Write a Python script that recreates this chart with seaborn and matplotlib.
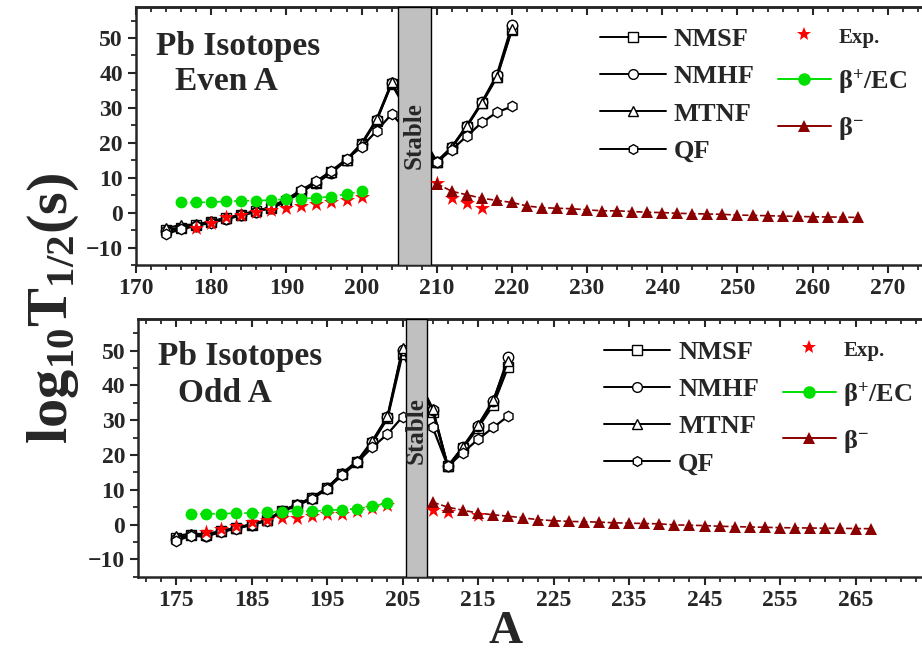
import matplotlib
matplotlib.use('Agg')
import matplotlib.pyplot as plt
from matplotlib.lines import Line2D
from matplotlib.ticker import FixedLocator, MultipleLocator
import seaborn as sns

# ---- even A isotopes ----
even_A = list(range(174, 206, 2)) + list(range(210, 222, 2))
even_nmsf = [-5.0, -4.3, -3.6, -2.6, -1.6, -0.6, 0.4, 1.4, 3.3, 6.0, 8.6, 11.5, 15.1, 19.6, 26.3, 36.8,
             14.4, 18.6, 24.6, 31.3, 38.7, 52.3]
even_nmhf = [-5.3, -4.5, -3.7, -2.7, -1.7, -0.7, 0.3, 1.3, 3.2, 5.9, 8.5, 11.4, 15.0, 19.5, 26.5, 37.0,
             14.6, 18.8, 24.9, 31.6, 39.5, 53.7]
even_mtnf = [-4.4, -3.6, -3.4, -2.5, -1.5, -0.5, 0.5, 1.5, 3.4, 6.1, 8.8, 11.6, 15.2, 19.8, 26.7, 37.3,
             14.5, 18.7, 24.8, 31.5, 38.9, 52.7]
even_qf = [-6.1, -4.8, -3.8, -2.9, -1.9, -0.8, 0.2, 1.8, 3.8, 6.5, 9.0, 12.0, 15.3, 18.8, 23.4, 28.2,
           14.4, 18.0, 21.9, 25.8, 28.7, 30.4]
even_exp_A = list(range(178, 202, 2)) + [210, 212, 214, 216]
even_exp = [-4.5, -2.9, -1.4, -0.7, 0.3, 0.8, 1.4, 2.0, 2.4, 2.9, 3.5, 4.6, 8.5, 4.1, 2.7, 1.4]
even_bp_A = list(range(176, 202, 2))
even_bp = [2.9, 2.9, 3.0, 3.2, 3.4, 3.4, 3.6, 3.8, 4.0, 4.2, 4.6, 5.3, 6.1]
even_bm_A = list(range(210, 268, 2))
even_bm = [8.3, 6.1, 5.1, 4.1, 3.5, 2.9, 1.9, 1.4, 1.25, 1.1, 0.8, 0.5, 0.5, 0.3, 0.1, 0.0, -0.2, -0.3,
           -0.4, -0.5, -0.7, -0.8, -0.9, -1.0, -1.1, -1.2, -1.25, -1.3, -1.4]

# ---- odd A isotopes ----
odd_A = list(range(175, 207, 2)) + list(range(209, 221, 2))
odd_nmsf = [-4.0, -3.0, -3.1, -2.0, -1.0, 0.0, 1.2, 3.8, 5.7, 7.6, 10.5, 14.6, 18.1, 23.5, 30.5, 49.0,
            32.4, 16.7, 22.0, 27.8, 34.3, 45.4]
odd_nmhf = [-4.2, -3.1, -3.2, -2.0, -1.1, 0.0, 1.2, 3.8, 5.7, 7.6, 10.5, 14.6, 18.1, 23.8, 30.8, 50.3,
            33.0, 16.8, 22.2, 28.3, 35.4, 48.1]
odd_mtnf = [-3.3, -2.6, -2.8, -1.8, -0.9, 0.1, 1.3, 3.9, 5.8, 7.7, 10.6, 14.7, 18.3, 24.1, 31.1, 50.8,
            33.3, 16.7, 22.4, 28.6, 35.7, 47.1]
odd_qf = [-4.6, -3.3, -3.4, -2.1, -1.2, -0.1, 1.0, 3.6, 5.5, 7.3, 10.2, 14.2, 17.9, 22.2, 26.0, 31.0,
          27.9, 16.7, 20.7, 24.5, 27.9, 31.2]
odd_exp_A = list(range(179, 205, 2)) + [209, 211, 215]
odd_exp = [-2.2, -1.4, -0.3, 0.7, 1.4, 1.9, 1.9, 2.4, 3.1, 3.1, 3.8, 4.8, 5.7, 4.3, 3.6, 2.6]
odd_bp_A = list(range(177, 205, 2))
odd_bp = [3.0, 3.1, 3.1, 3.3, 3.3, 3.5, 3.7, 3.8, 3.8, 4.1, 4.3, 4.6, 5.2, 6.2]
odd_bm_A = list(range(209, 269, 2))
odd_bm = [6.4, 5.0, 4.1, 3.3, 2.8, 2.4, 1.9, 1.4, 1.1, 0.9, 0.8, 0.7, 0.5, 0.4, 0.3, 0.2, -0.1, -0.2,
          -0.3, -0.5, -0.6, -0.7, -0.8, -0.9, -0.95, -1.0, -1.05, -1.1, -1.15, -1.2]

even_ticks = list(range(170, 280, 10))
odd_ticks = list(range(175, 275, 10))

sns.set_style('ticks')
plt.rcParams['font.family'] = ['Liberation Serif', 'DejaVu Serif']
plt.rcParams['font.weight'] = 'bold'
plt.rcParams['mathtext.fontset'] = 'custom'
plt.rcParams['mathtext.rm'] = 'Liberation Serif'
plt.rcParams['mathtext.bf'] = 'Liberation Serif:bold'
plt.rcParams['mathtext.default'] = 'bf'

GREEN = '#00e000'
DARKRED = '#8b0000'


def draw_panel(ax, A, nmsf, nmhf, mtnf, qf, exp_A, exp, bp_A, bp, bm_A, bm, band, major, minor):
    for vals, mk in [(nmsf, 's'), (nmhf, 'o'), (mtnf, '^'), (qf, 'h')]:
        sns.lineplot(x=A, y=vals, ax=ax, color='black', linewidth=1.6, marker=mk, markersize=7.5,
                     markerfacecolor='white', markeredgecolor='black', markeredgewidth=1,
                     estimator=None, sort=False, zorder=2)
    ax.axvspan(band[0], band[1], facecolor='#c0c0c0', edgecolor='black', linewidth=1, zorder=3)
    sns.scatterplot(x=exp_A, y=exp, ax=ax, marker='*', s=130, color='red', linewidth=0, zorder=4)
    sns.lineplot(x=bp_A, y=bp, ax=ax, color=GREEN, linestyle='--', linewidth=1.2, marker='o',
                 markersize=8.5, markeredgewidth=0, estimator=None, sort=False, zorder=5)
    sns.lineplot(x=bm_A, y=bm, ax=ax, color=DARKRED, linestyle='--', linewidth=1.2, marker='^',
                 markersize=8.5, markeredgewidth=0, estimator=None, sort=False, zorder=5)

    ax.set_xlim(170, 280)
    ax.set_ylim(-15, 59)
    ax.xaxis.set_major_locator(FixedLocator(major))
    ax.xaxis.set_minor_locator(FixedLocator(minor))
    ax.yaxis.set_major_locator(MultipleLocator(10))
    ax.yaxis.set_minor_locator(MultipleLocator(5))
    ax.tick_params(which='major', direction='out', length=6, width=1.5, labelsize=17)
    ax.tick_params(which='minor', direction='out', length=3.5, width=1.3)
    for s in ax.spines.values():
        s.set_linewidth(1.8)
    sec = ax.secondary_xaxis('top')
    sec.xaxis.set_major_locator(FixedLocator(major))
    sec.xaxis.set_minor_locator(FixedLocator(minor))
    sec.tick_params(which='major', direction='in', length=6, width=1.5, labeltop=False)
    sec.tick_params(which='minor', direction='in', length=3.5, width=1.3)
    sec.spines['top'].set_linewidth(1.8)
    ax.set_xlabel('')
    ax.set_ylabel('')
    for lab in ax.get_xticklabels() + ax.get_yticklabels():
        lab.set_fontweight('bold')

    model_handles = [Line2D([], [], color='black', linewidth=1.4, marker=m, markersize=7,
                            markerfacecolor='white', markeredgecolor='black', markeredgewidth=1)
                     for m in ['s', 'o', '^', 'h']]
    leg1 = ax.legend(model_handles, ['NMSF', 'NMHF', 'MTNF', 'QF'], loc='upper left',
                     bbox_to_anchor=(0.561, 0.918), frameon=False, fontsize=19, handlelength=2.5,
                     handletextpad=0.3, labelspacing=0.52, borderpad=0, borderaxespad=0)
    ax.add_artist(leg1)
    decay_handles = [Line2D([], [], linestyle='none', marker='*', markersize=10, color='red',
                            markeredgewidth=0),
                     Line2D([], [], color=GREEN, linewidth=1.4, marker='o', markersize=9,
                            markeredgewidth=0),
                     Line2D([], [], color=DARKRED, linewidth=1.4, marker='^', markersize=9,
                            markeredgewidth=0)]
    leg2 = ax.legend(decay_handles, ['Exp.', r'$\mathrm{\beta}^{+}$/EC', r'$\mathrm{\beta}^{-}$'],
                     loc='upper left', bbox_to_anchor=(0.776, 0.93), frameon=False, fontsize=19,
                     handlelength=2.0, handletextpad=0.3, labelspacing=0.72, borderpad=0,
                     borderaxespad=0)
    leg2.get_texts()[0].set_fontsize(15)


fig = plt.figure(figsize=(9.22, 6.57), dpi=100)
ax_top = fig.add_axes([0.1475, 0.5967, 0.897, 0.3933])
ax_bot = fig.add_axes([0.15, 0.1222, 0.9008, 0.3918])

draw_panel(ax_top, even_A, even_nmsf, even_nmhf, even_mtnf, even_qf, even_exp_A, even_exp,
           even_bp_A, even_bp, even_bm_A, even_bm, (204.8, 209.2),
           even_ticks, list(range(170, 282, 2)))
draw_panel(ax_bot, odd_A, odd_nmsf, odd_nmhf, odd_mtnf, odd_qf, odd_exp_A, odd_exp,
           odd_bp_A, odd_bp, odd_bm_A, odd_bm, (205.4, 208.2),
           odd_ticks, list(range(171, 281, 2)))

ax_top.text(0.024, 0.812, 'Pb Isotopes', transform=ax_top.transAxes, fontsize=24,
            fontweight='bold', ha='left', va='baseline')
ax_top.text(0.047, 0.677, 'Even A', transform=ax_top.transAxes, fontsize=24,
            fontweight='bold', ha='left', va='baseline')
ax_bot.text(0.024, 0.8225, 'Pb Isotopes', transform=ax_bot.transAxes, fontsize=24,
            fontweight='bold', ha='left', va='baseline')
ax_bot.text(0.048, 0.679, 'Odd A', transform=ax_bot.transAxes, fontsize=24,
            fontweight='bold', ha='left', va='baseline')

ax_top.text(207.0, 22, 'Stable', rotation=90, fontsize=18, fontweight='bold',
            ha='center', va='center', zorder=6)
ax_bot.text(206.8, 27, 'Stable', rotation=90, fontsize=18, fontweight='bold',
            ha='center', va='center', zorder=6)

fig.text(0.058, 0.53, r'$\mathbf{log}_{\mathbf{10}}\mathbf{T}_{\mathbf{1/2}}\mathbf{(s)}$',
         rotation=90, fontsize=42, ha='center', va='center')
fig.text(0.548, 0.038, 'A', fontsize=34, fontweight='bold', ha='center', va='center')

fig.savefig('out.png', dpi=100)
